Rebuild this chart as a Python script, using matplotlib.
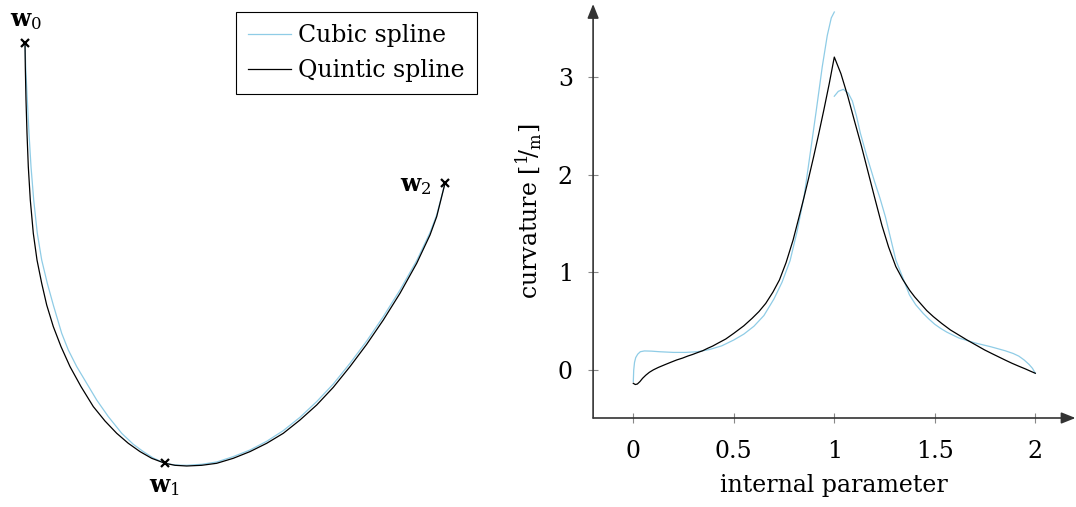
import matplotlib as mpl
mpl.use('Agg')
import matplotlib.pyplot as plt
import numpy as np

plt.rcParams['font.family'] = ['DejaVu Serif']
plt.rcParams['mathtext.fontset'] = 'dejavuserif'
plt.rcParams['font.size'] = 17

cubic_col = '#8fcce6'
quint_col = 'black'

# waypoints (m)
wp_x = [0.0, 1.4, 4.2]
wp_y = [4.2, 0.0, 2.8]
wp_names = [r'$\mathbf{w}_0$', r'$\mathbf{w}_1$', r'$\mathbf{w}_2$']
wp_off = [(1, 23), (0, -23), (-29, -2)]  # label offset in pixels

# sampled paths (m)
quint_px = [0.0, 0.003, 0.01, 0.02, 0.033, 0.053, 0.083, 0.12, 0.167, 0.217, 0.283,
            0.36, 0.45, 0.56, 0.683, 0.8, 0.917, 1.033, 1.15, 1.267, 1.4, 1.5, 1.617,
            1.767, 1.917, 2.083, 2.25, 2.417, 2.583, 2.75, 2.917, 3.083, 3.25, 3.417,
            3.583, 3.75, 3.917, 4.05, 4.117, 4.2]
quint_py = [4.2, 3.967, 3.633, 3.3, 2.967, 2.633, 2.3, 2.033, 1.8, 1.583, 1.367,
            1.167, 0.967, 0.767, 0.567, 0.423, 0.3, 0.2, 0.117, 0.05, 0.0, -0.02, -0.027,
            -0.02, 0.0, 0.05, 0.117, 0.2, 0.3, 0.433, 0.583, 0.76, 0.967, 1.19,
            1.433, 1.7, 2.0, 2.283, 2.467, 2.8]
cubic_px = [0.0, 0.007, 0.023, 0.04, 0.06, 0.087, 0.123, 0.167, 0.223, 0.283, 0.367,
            0.433, 0.517, 0.617, 0.717, 0.833, 0.967, 1.083, 1.183, 1.283, 1.4, 1.5,
            1.617, 1.767, 1.917, 2.083, 2.25, 2.417, 2.583, 2.75, 2.917, 3.083, 3.25,
            3.417, 3.583, 3.75, 3.917, 4.05, 4.117, 4.2]
cubic_py = [4.2, 3.967, 3.633, 3.3, 2.967, 2.633, 2.3, 2.033, 1.8, 1.583, 1.3,
            1.133, 0.967, 0.8, 0.633, 0.467, 0.3, 0.19, 0.117, 0.053, 0.0, -0.017,
            -0.02, -0.01, 0.013, 0.067, 0.133, 0.22, 0.327, 0.46, 0.617, 0.793, 1.0,
            1.223, 1.467, 1.733, 2.027, 2.307, 2.483, 2.8]

# curvature over the internal parameter
quint_s = [0.0, 0.01, 0.02, 0.033, 0.046, 0.062, 0.08, 0.1, 0.125, 0.16, 0.19, 0.216,
           0.245, 0.27, 0.295, 0.318, 0.345, 0.37, 0.395, 0.42, 0.46, 0.5, 0.55,
           0.591, 0.625, 0.659, 0.695, 0.727, 0.76, 0.795, 0.82, 0.846, 0.872, 0.897,
           0.923, 0.948, 0.975, 1.0,
           1.033, 1.067, 1.1, 1.135, 1.17, 1.2, 1.237, 1.27, 1.306, 1.34, 1.374,
           1.4, 1.43, 1.46, 1.493, 1.535, 1.578, 1.62, 1.66, 1.705, 1.748, 1.785,
           1.82, 1.852, 1.884, 1.918, 1.95, 1.975, 2.0]
quint_k = [-0.133, -0.145, -0.14, -0.115, -0.082, -0.05, -0.02, 0.005, 0.03, 0.06,
           0.085, 0.106, 0.125, 0.145, 0.162, 0.18, 0.2, 0.225, 0.248, 0.276, 0.32,
           0.378, 0.455, 0.531, 0.6, 0.684, 0.8, 0.923, 1.1, 1.331, 1.53, 1.74, 1.96,
           2.18, 2.42, 2.66, 2.93, 3.2,
           3.03, 2.8, 2.55, 2.29, 2.01, 1.77, 1.48, 1.26, 1.06, 0.93, 0.82,
           0.75, 0.68, 0.61, 0.548, 0.478, 0.412, 0.36, 0.31, 0.258, 0.208, 0.17,
           0.135, 0.103, 0.072, 0.042, 0.015, -0.008, -0.03]

cubic_s1 = [0.0, 0.002, 0.006, 0.012, 0.022, 0.035, 0.055, 0.09, 0.13, 0.2, 0.26, 0.32,
            0.38, 0.44, 0.5, 0.55, 0.6, 0.65, 0.7, 0.74, 0.78, 0.815, 0.85, 0.888,
            0.91, 0.94, 0.965, 0.985, 1.0]
cubic_k1 = [-0.116, 0.0, 0.08, 0.13, 0.165, 0.19, 0.198, 0.196, 0.19, 0.183, 0.183, 0.19,
            0.213, 0.25, 0.31, 0.37, 0.45, 0.56, 0.73, 0.9, 1.12, 1.42, 1.78, 2.33,
            2.65, 3.1, 3.42, 3.6, 3.66]
cubic_s2 = [1.0, 1.02, 1.045, 1.07, 1.09, 1.11, 1.13, 1.16, 1.2, 1.227, 1.254, 1.28,
            1.306, 1.34, 1.374, 1.405, 1.442, 1.47, 1.5, 1.53, 1.56, 1.62, 1.7, 1.78,
            1.85, 1.89, 1.918, 1.945, 1.969, 1.986, 2.0]
cubic_k2 = [2.8, 2.85, 2.87, 2.83, 2.75, 2.6, 2.42, 2.2, 1.93, 1.76, 1.57, 1.35,
            1.127, 0.95, 0.77, 0.67, 0.582, 0.525, 0.47, 0.427, 0.39, 0.33, 0.28, 0.24,
            0.2, 0.172, 0.145, 0.105, 0.06, 0.02, -0.03]

xticks = [0, 0.5, 1, 1.5, 2]
xticklabels = ['0', '0.5', '1', '1.5', '2']
yticks = [0, 1, 2, 3]

fig = plt.figure(figsize=(10.76, 5.07), dpi=100)

# --- path ---
ax1 = fig.add_axes([0, 0, 0.5, 1])
ax1.plot(cubic_px, cubic_py, color=cubic_col, lw=0.9, label='Cubic spline')
ax1.plot(quint_px, quint_py, color=quint_col, lw=0.9, label='Quintic spline')
ax1.plot(wp_x, wp_y, 'x', color='black', ms=6, mew=1.6)
for x, y, name, off in zip(wp_x, wp_y, wp_names, wp_off):
    ax1.annotate(name, (x, y), xytext=off, textcoords='offset pixels',
                 ha='center', va='center', fontsize=17)
ax1.set_xlim(-0.25, 5.13)
ax1.set_ylim(-0.437, 4.633)
ax1.axis('off')

leg = ax1.legend(loc='upper right', bbox_to_anchor=(476.7 / 1076, 1 - 12.3 / 507),
                 bbox_transform=fig.transFigure, borderaxespad=0, fancybox=False,
                 framealpha=1, edgecolor='black', handlelength=1.85, handletextpad=0.3,
                 borderpad=0.5, labelspacing=0.5, fontsize=17)
leg.get_frame().set_linewidth(0.8)

# --- curvature ---
ax2 = fig.add_axes([593.1 / 1076, 1 - 418 / 507, (1075.5 - 593.1) / 1076, 414 / 507])
ax2.plot(cubic_s1, cubic_k1, color=cubic_col, lw=0.9)
ax2.plot(cubic_s2, cubic_k2, color=cubic_col, lw=0.9)
ax2.plot(quint_s, quint_k, color=quint_col, lw=0.9)
ax2.set_xlim(-0.2, 2.2)
ax2.set_ylim(-0.487, 3.742)

for s in ax2.spines.values():
    s.set_visible(False)
ax_col = '#333333'
ax2.annotate('', xy=(1, 0), xytext=(0, 0), xycoords='axes fraction',
             arrowprops=dict(arrowstyle='-|>,head_length=0.5,head_width=0.2',
                             color=ax_col, lw=1.2, shrinkA=0, shrinkB=0))
ax2.annotate('', xy=(0, 1), xytext=(0, 0), xycoords='axes fraction',
             arrowprops=dict(arrowstyle='-|>,head_length=0.5,head_width=0.2',
                             color=ax_col, lw=1.2, shrinkA=0, shrinkB=0))

ax2.set_xticks(xticks, xticklabels)
ax2.set_yticks(yticks)
ax2.tick_params(direction='inout', length=7, width=0.8, color='#888888')
ax2.tick_params(axis='x', pad=12)
ax2.tick_params(axis='y', pad=11)
ax2.set_xlabel('internal parameter', labelpad=8)
ax2.set_ylabel(r'curvature [$^{1}\!/_{\mathrm{m}}$]', labelpad=10)

plt.savefig('out.png', dpi=100)
